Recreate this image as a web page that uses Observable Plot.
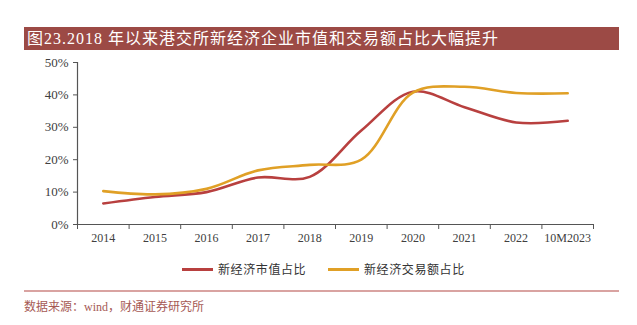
<!DOCTYPE html>
<html>
<head>
<meta charset="utf-8">
<script src="https://cdn.jsdelivr.net/npm/d3@7"></script>
<script src="https://cdn.jsdelivr.net/npm/@observablehq/plot@0.6"></script>
<style>
  html, body { margin: 0; padding: 0; background: #fff; }
  #wrap { position: relative; width: 637px; height: 325px; overflow: hidden; font-family: "Liberation Serif", "Noto Sans CJK SC", serif; }
  #title { position: absolute; left: 24px; top: 27px; width: 595px; height: 23px; background: #9c4a45; color: #fff; font-size: 16px; line-height: 23px; padding-left: 3px; box-sizing: border-box; white-space: nowrap; letter-spacing: 1px; }
  #chart { position: absolute; left: 0; top: 50px; }
  #legend { position: absolute; top: 261px; left: 0; width: 637px; height: 16px; }
  .lg { position: absolute; top: 0; display: flex; align-items: center; font-size: 12px; letter-spacing: 0.6px; color: #333; font-family: "Noto Sans CJK SC", sans-serif; line-height: 16px; }
  .sw { width: 31px; height: 3px; margin-right: 5px; }
  #rule { position: absolute; left: 24px; top: 290px; width: 595px; height: 2px; background: #d9a3a1; }
  #source { position: absolute; left: 24px; top: 297px; font-size: 12px; color: #a65a55; font-family: "Liberation Serif", "Noto Sans CJK SC", serif; white-space: nowrap; }
</style>
</head>
<body>
<div id="wrap">
  <div id="title">图23.2018 年以来港交所新经济企业市值和交易额占比大幅提升</div>
  <div id="chart"></div>
  <div id="legend"></div>
  <div id="rule"></div>
  <div id="source">数据来源：wind，财通证券研究所</div>
</div>
<script>
const categories = ["2014","2015","2016","2017","2018","2019","2020","2021","2022","10M2023"];
const marketCapShare = [0.065, 0.085, 0.10, 0.145, 0.147, 0.29, 0.41, 0.362, 0.315, 0.32];
const turnoverShare  = [0.103, 0.093, 0.11, 0.167, 0.184, 0.20, 0.407, 0.425, 0.406, 0.405];
const seriesNames = ["新经济市值占比", "新经济交易额占比"];
const seriesColors = ["#b8403f", "#e0a026"];
const yTicks = [0, 0.1, 0.2, 0.3, 0.4, 0.5];

const data = [];
categories.forEach((c, i) => {
  data.push({i, cat: c, series: seriesNames[0], v: marketCapShare[i]});
  data.push({i, cat: c, series: seriesNames[1], v: turnoverShare[i]});
});

const n = categories.length;
const axisColor = "#555";
const chart = Plot.plot({
  width: 637,
  height: 200,
  marginTop: 12,
  marginBottom: 26,
  marginLeft: 77,
  marginRight: 44,
  style: { fontFamily: "Liberation Serif, serif", fontSize: "12px", color: "#404040", background: "transparent" },
  x: { type: "linear", domain: [-0.5, n - 0.5] },
  y: { domain: [0, 0.5] },
  color: { domain: seriesNames, range: seriesColors },
  marks: [
    Plot.axisY(yTicks, { tickFormat: d => Math.round(d * 100) + "%", tickSize: 4, tickPadding: 5, stroke: axisColor, label: null, fill: "#404040", fontSize: 13 }),
    Plot.axisX(d3.range(n), { tickFormat: i => categories[i], tickSize: 0, tickPadding: 9, label: null, fill: "#404040" }),
    Plot.axisX(d3.range(n + 1).map(i => i - 0.5), { tickFormat: () => "", tickSize: 5, stroke: axisColor, label: null }),
    Plot.ruleY([0], { stroke: axisColor, strokeWidth: 1.2 }),
    Plot.ruleX([-0.5], { stroke: axisColor, strokeWidth: 1.2 }),
    Plot.line(data, { x: "i", y: "v", z: "series", stroke: "series", strokeWidth: 2.6, curve: "catmull-rom" })
  ]
});
document.getElementById("chart").appendChild(chart);

const legend = document.getElementById("legend");
const lefts = [182, 328];
seriesNames.forEach((s, k) => {
  const item = document.createElement("div");
  item.className = "lg";
  item.style.left = lefts[k] + "px";
  const sw = document.createElement("div");
  sw.className = "sw";
  sw.style.background = seriesColors[k];
  const t = document.createElement("span");
  t.textContent = s;
  item.appendChild(sw);
  item.appendChild(t);
  legend.appendChild(item);
});
</script>
</body>
</html>
